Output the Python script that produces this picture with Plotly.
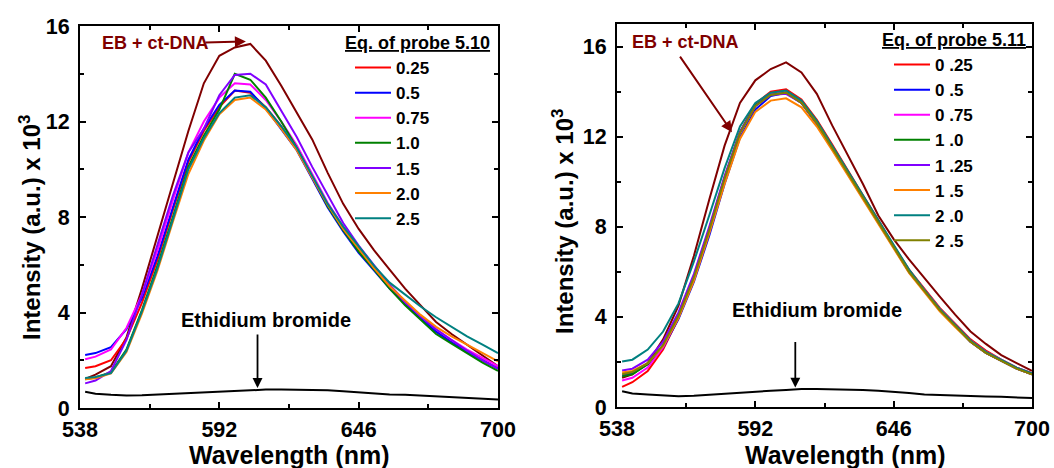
import plotly.graph_objects as go

FONT = "Liberation Sans, Arial, sans-serif"
W, H = 1054, 468

# Emission wavelengths (nm) shared by every spectrum
wavelength = [540, 544, 550, 556, 562, 568, 574, 580, 586, 592, 598, 604, 610, 616,
              622, 628, 634, 640, 646, 652, 658, 664, 670, 676, 682, 688, 694, 700]

# ---------------- Probe 5.10 titration (intensity x 10^3) ----------------
eb_only_510 = [0.68, 0.6, 0.55, 0.52, 0.53, 0.56, 0.6, 0.63, 0.66, 0.7, 0.73, 0.76, 0.77, 0.77,
               0.77, 0.76, 0.74, 0.7, 0.65, 0.6, 0.57, 0.55, 0.52, 0.5, 0.47, 0.44, 0.4, 0.36]
eb_dna_510 = [1.22, 1.4, 1.75, 2.95, 5.0, 7.15, 9.4, 11.6, 13.6, 14.75, 15.1, 15.25, 14.55, 13.5,
              12.35, 11.25, 9.85, 8.55, 7.5, 6.6, 5.8, 5.0, 4.3, 3.6, 3.1, 2.65, 2.2, 1.75]
p510_025 = [1.68, 1.75, 2.0, 2.9, 4.4, 6.2, 8.3, 10.3, 11.6, 12.6, 13.3, 13.2, 12.6, 11.8,
            10.85, 9.65, 8.45, 7.45, 6.55, 5.8, 5.05, 4.35, 3.75, 3.2, 2.75, 2.35, 2.0, 1.65]
p510_05 = [2.22, 2.3, 2.55, 3.3, 4.6, 6.35, 8.4, 10.4, 11.7, 12.7, 13.3, 13.25, 12.55, 11.7,
           10.8, 9.6, 8.4, 7.4, 6.5, 5.75, 5.0, 4.35, 3.75, 3.2, 2.75, 2.35, 2.0, 1.65]
p510_075 = [2.04, 2.15, 2.45, 3.35, 4.75, 6.6, 8.7, 10.7, 12.0, 13.0, 13.6, 13.55, 12.9, 12.0,
            11.0, 9.8, 8.6, 7.6, 6.7, 5.9, 5.15, 4.45, 3.85, 3.3, 2.85, 2.45, 2.1, 1.75]
p510_10 = [1.2, 1.28, 1.5, 2.45, 4.1, 5.95, 8.0, 10.1, 11.4, 12.5, 14.0, 13.75, 13.0, 12.0,
           10.9, 9.65, 8.45, 7.45, 6.55, 5.8, 5.0, 4.3, 3.7, 3.1, 2.7, 2.3, 1.9, 1.55]
p510_15 = [1.03, 1.15, 1.55, 2.85, 4.75, 6.8, 8.9, 10.7, 11.7, 13.1, 13.95, 14.0, 13.55, 12.45,
           11.35, 10.1, 8.9, 7.75, 6.8, 5.95, 5.15, 4.45, 3.85, 3.3, 2.85, 2.4, 2.0, 1.65]
p510_20 = [1.2, 1.25, 1.45, 2.35, 3.95, 5.75, 7.8, 9.8, 11.2, 12.3, 12.9, 13.0, 12.5, 11.7,
           10.8, 9.65, 8.5, 7.5, 6.65, 5.85, 5.1, 4.5, 3.9, 3.4, 3.0, 2.65, 2.3, 1.95]
p510_25 = [1.26, 1.3, 1.46, 2.4, 4.05, 5.85, 7.9, 10.0, 11.3, 12.35, 13.0, 13.1, 12.6, 11.8,
           10.9, 9.7, 8.55, 7.6, 6.75, 5.95, 5.25, 4.75, 4.25, 3.8, 3.4, 3.0, 2.65, 2.3]

labels_510 = ["0.25", "0.5", "0.75", "1.0", "1.5", "2.0", "2.5"]
series_510 = [p510_025, p510_05, p510_075, p510_10, p510_15, p510_20, p510_25]
colors_510 = ["#ff0000", "#0000ff", "#ff00ff", "#008000", "#8000ff", "#ff8000", "#008080"]

# ---------------- Probe 5.11 titration (intensity x 10^3) ----------------
eb_only_511 = [0.7, 0.6, 0.55, 0.5, 0.48, 0.5, 0.55, 0.6, 0.64, 0.68, 0.72, 0.76, 0.8, 0.8,
               0.79, 0.78, 0.76, 0.72, 0.68, 0.62, 0.56, 0.53, 0.5, 0.48, 0.47, 0.45, 0.42, 0.4]
eb_dna_511 = [1.3, 1.45, 1.95, 3.0, 4.5, 6.7, 9.2, 11.6, 13.5, 14.5, 15.0, 15.3, 14.85, 13.9,
              12.5, 11.2, 9.9, 8.5, 7.45, 6.55, 5.7, 4.9, 4.1, 3.35, 2.8, 2.3, 1.95, 1.6]
p511_025 = [0.89, 1.1, 1.6, 2.55, 3.95, 5.7, 7.85, 10.15, 12.2, 13.45, 14.0, 14.1, 13.65, 12.75,
            11.65, 10.5, 9.4, 8.3, 7.15, 6.1, 5.25, 4.4, 3.7, 3.0, 2.5, 2.1, 1.75, 1.5]
p511_05 = [1.4, 1.5, 1.9, 2.65, 3.9, 5.55, 7.6, 9.9, 11.95, 13.2, 13.8, 13.95, 13.5, 12.55,
           11.45, 10.35, 9.25, 8.2, 7.05, 6.0, 5.15, 4.3, 3.6, 2.9, 2.4, 2.05, 1.7, 1.45]
p511_075 = [1.18, 1.3, 1.75, 2.65, 4.0, 5.75, 7.85, 10.15, 12.15, 13.4, 13.9, 14.0, 13.55, 12.65,
            11.55, 10.45, 9.35, 8.25, 7.1, 6.05, 5.2, 4.35, 3.65, 2.95, 2.45, 2.1, 1.75, 1.5]
p511_10 = [1.36, 1.45, 1.9, 2.75, 4.05, 5.8, 7.9, 10.2, 12.2, 13.4, 13.85, 13.95, 13.5, 12.6,
           11.5, 10.4, 9.3, 8.2, 7.05, 6.0, 5.15, 4.3, 3.6, 2.9, 2.4, 2.05, 1.7, 1.45]
p511_125 = [1.62, 1.7, 2.1, 2.9, 4.2, 5.9, 8.0, 10.25, 12.2, 13.35, 13.85, 13.9, 13.5, 12.6,
            11.5, 10.4, 9.3, 8.2, 7.05, 6.0, 5.15, 4.3, 3.6, 2.9, 2.4, 2.05, 1.7, 1.45]
p511_15 = [1.53, 1.6, 1.95, 2.7, 3.95, 5.6, 7.7, 9.9, 11.9, 13.1, 13.6, 13.7, 13.3, 12.45,
           11.4, 10.3, 9.2, 8.15, 7.0, 5.95, 5.1, 4.25, 3.55, 2.9, 2.4, 2.05, 1.7, 1.45]
p511_20 = [2.02, 2.1, 2.55, 3.35, 4.6, 6.45, 8.5, 10.6, 12.45, 13.5, 13.95, 14.05, 13.6, 12.7,
           11.6, 10.5, 9.4, 8.3, 7.15, 6.1, 5.2, 4.35, 3.65, 2.95, 2.45, 2.1, 1.75, 1.5]
p511_25 = [1.45, 1.55, 1.95, 2.75, 4.05, 5.75, 7.85, 10.15, 12.15, 13.35, 13.85, 13.95, 13.5, 12.6,
           11.5, 10.4, 9.3, 8.2, 7.05, 6.0, 5.15, 4.3, 3.6, 2.9, 2.4, 2.05, 1.7, 1.45]

labels_511 = ["0 .25", "0 .5", "0 .75", "1 .0", "1 .25", "1 .5", "2 .0", "2 .5"]
series_511 = [p511_025, p511_05, p511_075, p511_10, p511_125, p511_15, p511_20, p511_25]
colors_511 = ["#ff0000", "#0000ff", "#ff00ff", "#008000", "#8000ff", "#ff8000", "#008080", "#808000"]

DARK_RED = "#800000"

fig = go.Figure()


def add_panel(xa, ya, legend_name, eb_only, eb_dna, series, labels, colors):
    fig.add_trace(go.Scatter(x=wavelength, y=eb_only, mode="lines", xaxis=xa, yaxis=ya,
                             line=dict(color="black", width=2), showlegend=False))
    fig.add_trace(go.Scatter(x=wavelength, y=eb_dna, mode="lines", xaxis=xa, yaxis=ya,
                             line=dict(color=DARK_RED, width=2), showlegend=False))
    for i, (vals, lab, col) in enumerate(zip(series, labels, colors)):
        fig.add_trace(go.Scatter(x=wavelength, y=vals, mode="lines", name=lab,
                                 xaxis=xa, yaxis=ya, legend=legend_name,
                                 legendgroup=f"{legend_name}{i}",
                                 line=dict(color=col, width=2)))


add_panel("x", "y", "legend", eb_only_510, eb_dna_510, series_510, labels_510, colors_510)
add_panel("x2", "y2", "legend2", eb_only_511, eb_dna_511, series_511, labels_511, colors_511)

tick_font = dict(family=FONT, size=21.5, color="black", weight="bold")
axis_common = dict(showline=True, linewidth=2, linecolor="black", mirror="allticks",
                   ticks="inside", ticklen=6, tickwidth=2, tickcolor="black",
                   showgrid=False, zeroline=False, tickfont=tick_font, automargin=False)

xaxis_common = dict(axis_common, range=[538, 700], tickmode="array",
                    tickvals=[538, 592, 646, 700], ticklabelstandoff=1,
                    minor=dict(ticks="inside", ticklen=4, tickwidth=1.5, tickcolor="black",
                               tick0=538, dtick=27))
yaxis_common = dict(axis_common, tick0=0, dtick=4, ticklabelstandoff=4,
                    minor=dict(ticks="inside", ticklen=4, tickwidth=1.5, tickcolor="black",
                               tick0=0, dtick=2))

legend_font = dict(family=FONT, size=17, color="black", weight="bold")

fig.update_layout(
    width=W, height=H,
    margin=dict(l=0, r=0, t=0, b=0),
    paper_bgcolor="white", plot_bgcolor="rgba(0,0,0,0)",
    xaxis=dict(xaxis_common, domain=[80 / W, 498 / W], anchor="y"),
    yaxis=dict(yaxis_common, domain=[1 - 408 / H, 1 - 26 / H], range=[0, 16], anchor="x"),
    xaxis2=dict(xaxis_common, domain=[617 / W, 1032 / W], anchor="y2"),
    yaxis2=dict(yaxis_common, domain=[1 - 407 / H, 1 - 24 / H], range=[0, 17], anchor="x2"),
    legend=dict(x=350 / W, xanchor="left", y=1 - 50 / H, yanchor="top", itemwidth=36,
                bgcolor="rgba(0,0,0,0)", borderwidth=0, tracegroupgap=0, font=legend_font),
    legend2=dict(x=889 / W, xanchor="left", y=1 - 47 / H, yanchor="top", itemwidth=36,
                 bgcolor="rgba(0,0,0,0)", borderwidth=0, tracegroupgap=0, font=legend_font),
    showlegend=True,
)

ann_font = dict(family=FONT, size=18, color="black", weight="bold")
label_font = dict(family=FONT, size=20, color="black", weight="bold")
title_font = dict(family=FONT, size=25, color="black", weight="bold")

annotations = [
    # legend headings
    dict(text="<u>Eq. of probe 5.10</u>", x=492 / W, y=1 - 43 / H, xref="paper", yref="paper",
         xanchor="right", yanchor="middle", showarrow=False, font=ann_font),
    dict(text="<u>Eq. of probe 5.11</u>", x=1028 / W, y=1 - 40 / H, xref="paper", yref="paper",
         xanchor="right", yanchor="middle", showarrow=False, font=ann_font),
    # curve labels
    dict(text="EB + ct-DNA", x=100 / W, y=1 - 43 / H, xref="paper", yref="paper",
         xanchor="left", yanchor="middle", showarrow=False, font=dict(ann_font, color=DARK_RED)),
    dict(text="EB + ct-DNA", x=630 / W, y=1 - 42 / H, xref="paper", yref="paper",
         xanchor="left", yanchor="middle", showarrow=False, font=dict(ann_font, color=DARK_RED)),
    dict(text="Ethidium bromide", x=266 / W, y=1 - 320 / H, xref="paper", yref="paper",
         xanchor="center", yanchor="middle", showarrow=False, font=label_font),
    dict(text="Ethidium bromide", x=817 / W, y=1 - 310 / H, xref="paper", yref="paper",
         xanchor="center", yanchor="middle", showarrow=False, font=label_font),
    # arrows
    dict(text="", x=602.3, y=15.35, xref="x", yref="y", ax=-42, ay=1, showarrow=True,
         arrowhead=2, arrowsize=1.1, arrowwidth=2, arrowcolor=DARK_RED, standoff=0),
    dict(text="", x=582.9, y=12.2, xref="x2", yref="y2", ax=-53, ay=-77, showarrow=True,
         arrowhead=2, arrowsize=1.1, arrowwidth=2, arrowcolor=DARK_RED, standoff=0),
    dict(text="", x=606.8, y=0.84, xref="x", yref="y", ax=0, ay=-55, showarrow=True,
         arrowhead=2, arrowsize=1.1, arrowwidth=1.8, arrowcolor="black", standoff=0),
    dict(text="", x=607.6, y=0.86, xref="x2", yref="y2", ax=0, ay=-47, showarrow=True,
         arrowhead=2, arrowsize=1.1, arrowwidth=1.8, arrowcolor="black", standoff=0),
    # axis titles
    dict(text="Wavelength (nm)", x=289 / W, y=1 - 455 / H, xref="paper", yref="paper",
         xanchor="center", yanchor="middle", showarrow=False, font=title_font),
    dict(text="Wavelength (nm)", x=845 / W, y=1 - 455 / H, xref="paper", yref="paper",
         xanchor="center", yanchor="middle", showarrow=False, font=title_font),
    dict(text="Intensity (a.u.) x 10<sup>3</sup>", x=30 / W, y=1 - 228 / H, xref="paper",
         yref="paper", xanchor="center", yanchor="middle", textangle=-90, showarrow=False,
         font=dict(title_font, size=24)),
    dict(text="Intensity (a.u.) x 10<sup>3</sup>", x=563 / W, y=1 - 222 / H, xref="paper",
         yref="paper", xanchor="center", yanchor="middle", textangle=-90, showarrow=False,
         font=dict(title_font, size=24)),
]
fig.update_layout(annotations=annotations)

fig.write_html("out.html")
